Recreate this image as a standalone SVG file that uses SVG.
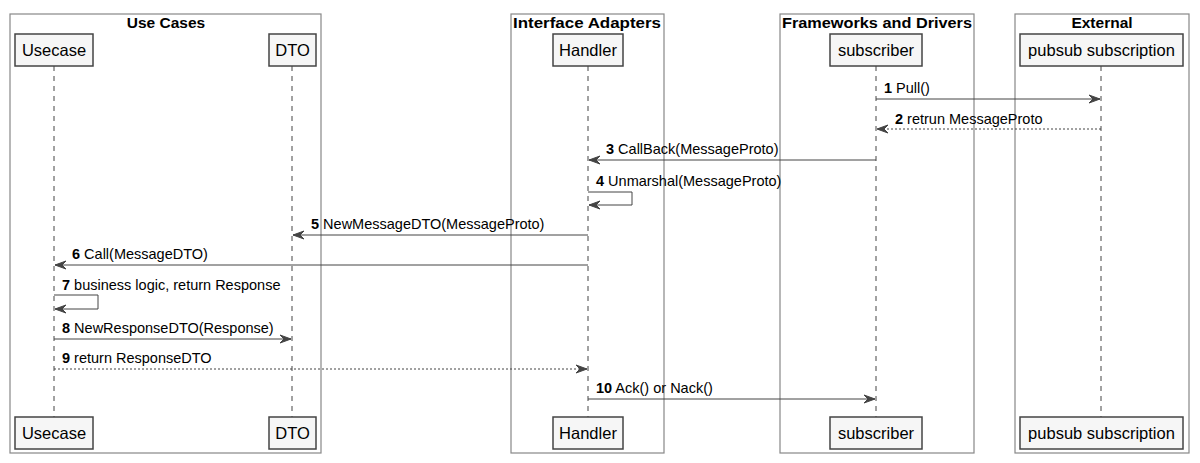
<svg xmlns="http://www.w3.org/2000/svg" width="1200" height="463" viewBox="0 0 1200 463">
<style>
.grp{fill:none;stroke:#888;stroke-width:1.2}
.gt{font-family:"Liberation Sans",Arial,sans-serif;font-size:15.5px;font-weight:bold;fill:#000;text-anchor:middle}
.pbox{fill:#f6f6f6;stroke:#444;stroke-width:1.5}
.pt{font-family:"Liberation Sans",Arial,sans-serif;font-size:16.5px;fill:#000;text-anchor:middle}
.life{stroke:#444;stroke-width:1;stroke-dasharray:5,5;fill:none}
.msg{stroke:#444;stroke-width:1;fill:none}
.ret{stroke:#444;stroke-width:1;fill:none;stroke-dasharray:2,2}
.ml{font-family:"Liberation Sans",Arial,sans-serif;font-size:14.5px;fill:#000}
.num{font-weight:bold}
.ah{fill:#444;stroke:#444;stroke-width:1}
</style>
<rect width="1200" height="463" fill="#fff"/>
<g id="groups">
<g id="g-usecases"><rect class="grp" x="10" y="14" width="311" height="439"/><text class="gt" x="166" y="28">Use Cases</text></g>
<g id="g-adapters"><rect class="grp" x="511" y="14" width="153" height="439"/><text class="gt" x="587" y="28" textLength="148" lengthAdjust="spacingAndGlyphs">Interface Adapters</text></g>
<g id="g-frameworks"><rect class="grp" x="780" y="14" width="194" height="439"/><text class="gt" x="877" y="28" textLength="190" lengthAdjust="spacingAndGlyphs">Frameworks and Drivers</text></g>
<g id="g-external"><rect class="grp" x="1015" y="14" width="174" height="439"/><text class="gt" x="1102" y="28">External</text></g>
</g>
<g id="lifelines">
<line class="life" x1="54" y1="66" x2="54" y2="417"/>
<line class="life" x1="292" y1="66" x2="292" y2="417"/>
<line class="life" x1="588" y1="66" x2="588" y2="417"/>
<line class="life" x1="876" y1="66" x2="876" y2="417"/>
<line class="life" x1="1101" y1="66" x2="1101" y2="417"/>
</g>
<g id="usecase">
<rect class="pbox" x="15" y="34" width="78" height="32"/><text class="pt" x="54" y="56">Usecase</text>
<rect class="pbox" x="15" y="417" width="78" height="32"/><text class="pt" x="54" y="439">Usecase</text>
</g>
<g id="dto">
<rect class="pbox" x="269" y="34" width="47" height="32"/><text class="pt" x="292.5" y="56">DTO</text>
<rect class="pbox" x="269" y="417" width="47" height="32"/><text class="pt" x="292.5" y="439">DTO</text>
</g>
<g id="handler">
<rect class="pbox" x="553" y="34" width="70" height="32"/><text class="pt" x="588" y="56">Handler</text>
<rect class="pbox" x="553" y="417" width="70" height="32"/><text class="pt" x="588" y="439">Handler</text>
</g>
<g id="subscriber">
<rect class="pbox" x="830" y="34" width="92" height="32"/><text class="pt" x="876" y="56">subscriber</text>
<rect class="pbox" x="830" y="417" width="92" height="32"/><text class="pt" x="876" y="439">subscriber</text>
</g>
<g id="pubsub">
<rect class="pbox" x="1020" y="34" width="163" height="32"/><text class="pt" x="1101.5" y="56">pubsub subscription</text>
<rect class="pbox" x="1020" y="417" width="163" height="32"/><text class="pt" x="1101.5" y="439">pubsub subscription</text>
</g>
<g id="connectors">
<line class="msg" x1="876" y1="99" x2="1100" y2="99"/>
<polygon class="ah" points="1100,99 1089,95 1093,99 1089,103"/>
<text class="ml" x="884" y="93"><tspan class="num">1</tspan> Pull()</text>
<line class="ret" x1="1101" y1="129" x2="877" y2="129"/>
<polygon class="ah" points="877,129 888,125 884,129 888,133"/>
<text class="ml" x="895" y="124"><tspan class="num">2</tspan> retrun MessageProto</text>
<line class="msg" x1="876" y1="160" x2="589" y2="160"/>
<polygon class="ah" points="589,160 600,156 596,160 600,164"/>
<text class="ml" x="606" y="154"><tspan class="num">3</tspan> CallBack(MessageProto)</text>
<polyline class="msg" points="588,192 632,192 632,205 589,205"/>
<polygon class="ah" points="589,205 600,201 596,205 600,209"/>
<text class="ml" x="596" y="186"><tspan class="num">4</tspan> Unmarshal(MessageProto)</text>
<line class="msg" x1="588" y1="235" x2="293" y2="235"/>
<polygon class="ah" points="293,235 304,231 300,235 304,239"/>
<text class="ml" x="311" y="229"><tspan class="num">5</tspan> NewMessageDTO(MessageProto)</text>
<line class="msg" x1="588" y1="265" x2="55" y2="265"/>
<polygon class="ah" points="55,265 66,261 62,265 66,269"/>
<text class="ml" x="72" y="259"><tspan class="num">6</tspan> Call(MessageDTO)</text>
<polyline class="msg" points="54,295 98,295 98,309 55,309"/>
<polygon class="ah" points="55,309 66,305 62,309 66,313"/>
<text class="ml" x="62" y="290"><tspan class="num">7</tspan> business logic, return Response</text>
<line class="msg" x1="54" y1="339" x2="291" y2="339"/>
<polygon class="ah" points="291,339 280,335 284,339 280,343"/>
<text class="ml" x="62" y="333"><tspan class="num">8</tspan> NewResponseDTO(Response)</text>
<line class="ret" x1="54" y1="369" x2="587" y2="369"/>
<polygon class="ah" points="587,369 576,365 580,369 576,373"/>
<text class="ml" x="62" y="363"><tspan class="num">9</tspan> return ResponseDTO</text>
<line class="msg" x1="588" y1="399" x2="875" y2="399"/>
<polygon class="ah" points="875,399 864,395 868,399 864,403"/>
<text class="ml" x="596" y="393"><tspan class="num">10</tspan> Ack() or Nack()</text>
</g>
</svg>
